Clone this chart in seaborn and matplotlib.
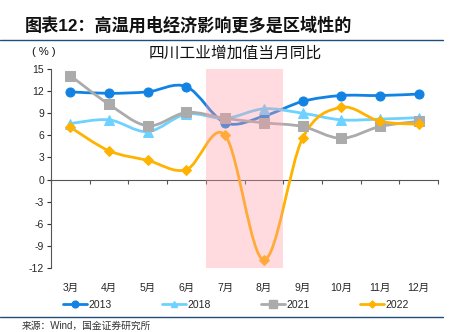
import numpy as np
import pandas as pd
import seaborn as sns
import matplotlib
matplotlib.use("Agg")
import matplotlib.pyplot as plt
from matplotlib.path import Path
from matplotlib.patches import PathPatch
from matplotlib.lines import Line2D

months = ["3月", "4月", "5月", "6月", "7月", "8月", "9月", "10月", "11月", "12月"]
series_names = ["2013", "2018", "2021", "2022"]
v2013 = [11.9, 11.7, 11.9, 12.6, 7.7, 8.6, 10.6, 11.4, 11.4, 11.6]
v2018 = [7.6, 8.1, 6.5, 8.9, 8.3, 9.6, 9.0, 8.1, 8.2, 8.4]
v2021 = [14.1, 10.2, 7.3, 9.1, 8.3, 7.7, 7.2, 5.6, 7.2, 7.9]
v2022 = [7.1, 3.9, 2.6, 1.35, 6.0, -10.9, 5.6, 9.8, 7.9, 7.5]
yticks = [15, 12, 9, 6, 3, 0, -3, -6, -9, -12]
shade_months = ["7月", "8月"]

sns.set_theme(style="white")
plt.rcParams["font.family"] = ["Liberation Sans", "Noto Sans CJK SC", "DejaVu Sans"]

df = pd.DataFrame({
    "month": months * 4,
    "x": list(range(len(months))) * 4,
    "value": v2013 + v2018 + v2021 + v2022,
    "year": sum([[n] * len(months) for n in series_names], []),
})

colors = {"2013": "#1283E3", "2018": "#6DD2FF", "2021": "#ABABAB", "2022": "#FFB300"}
markers = {"2013": "o", "2018": "^", "2021": "s", "2022": "D"}
msizes = {"2013": 6.5, "2018": 6.5, "2021": 7.0, "2022": 4.8}

fig = plt.figure(figsize=(4.63, 3.32), dpi=100)
ax = fig.add_axes([51 / 463, 1 - 268 / 332, (438 - 51) / 463, (268 - 69) / 332])

def smooth_path(xs, ys):
    pts = np.column_stack([xs, ys]).astype(float)
    verts = [pts[0]]
    codes = [Path.MOVETO]
    n = len(pts)
    for i in range(n - 1):
        p0 = pts[i - 1] if i > 0 else pts[i]
        p1 = pts[i]
        p2 = pts[i + 1]
        p3 = pts[i + 2] if i + 2 < n else pts[i + 1]
        c1 = p1 + (p2 - p0) / 6.0
        c2 = p2 - (p3 - p1) / 6.0
        verts += [c1, c2, p2]
        codes += [Path.CURVE4] * 3
    return Path(verts, codes)

for name in series_names:
    sub = df[df["year"] == name]
    ax.add_patch(PathPatch(smooth_path(sub["x"].values, sub["value"].values),
                           facecolor="none", edgecolor=colors[name], lw=2.0,
                           zorder=3, capstyle="round", joinstyle="round"))
    sns.lineplot(data=sub, x="x", y="value", ax=ax, color=colors[name],
                 marker=markers[name], markersize=msizes[name], linestyle="",
                 markeredgecolor=colors[name], zorder=4, legend=False)

# shaded region (drawn over lines, semi-transparent)
i0 = months.index(shade_months[0])
i1 = months.index(shade_months[-1])
ax.axvspan(i0 - 0.5, i1 + 0.5, color="#FF9AA6", alpha=0.35, lw=0, zorder=5)

ax.set_xlim(-0.5, len(months) - 0.5)
ax.set_ylim(-12, 15)
ax.set_yticks(yticks)
ax.set_yticklabels([str(t) for t in yticks], fontsize=7.5)
ax.set_xticks(range(len(months)))
ax.set_xticklabels(months, fontsize=7.5)
ax.tick_params(axis="x", length=0, pad=11)
ax.tick_params(axis="y", length=3, width=0.8, color="#333333", direction="out", pad=2, left=True)
ax.set_xlabel("")
ax.set_ylabel("")
for s in ["top", "right", "bottom"]:
    ax.spines[s].set_visible(False)
ax.spines["left"].set_color("#555555")
ax.spines["left"].set_linewidth(0.8)

# zero axis line with category boundary ticks
sec = ax.secondary_xaxis(12 / 27)
sec.set_xticks(np.arange(-0.5, len(months), 1.0))
sec.set_xticklabels([])
sec.tick_params(length=3, width=0.8, color="#555555", direction="out")
sec.spines["bottom"].set_color("#555555")
sec.spines["bottom"].set_linewidth(0.8)

# legend
handles = [Line2D([0], [0], color=colors[n], lw=2.0, marker=markers[n],
                  markersize=msizes[n] * 0.75) for n in series_names]
fig.legend(handles, series_names, loc="center", bbox_to_anchor=(236 / 463, 1 - 305 / 332),
           ncol=4, frameon=False, fontsize=7.5, handlelength=2.3, handletextpad=0.15,
           columnspacing=4.8)

# header, title, unit, source
fig.text(25 / 463, 1 - 25 / 332, "图表12：高温用电经济影响更多是区域性的",
         fontsize=12.3, fontweight="bold", va="center", ha="left", color="#111111")
fig.add_artist(Line2D([0, 443 / 463], [1 - 40 / 332] * 2, color="#1F4E79", lw=1.0))
fig.text(235 / 463, 1 - 53 / 332, "四川工业增加值当月同比", fontsize=11.3,
         va="center", ha="center", color="#111111")
fig.text(44 / 463, 1 - 52 / 332, "( % )", fontsize=8, va="center", ha="center",
         color="#111111")
fig.add_artist(Line2D([0, 443 / 463], [1 - 317 / 332] * 2, color="#1F4E79", lw=1.0))
fig.text(22 / 463, 1 - 326 / 332, "来源：Wind，国金证券研究所", fontsize=7,
         va="center", ha="left", color="#333333")

fig.savefig("out.png", dpi=100)
